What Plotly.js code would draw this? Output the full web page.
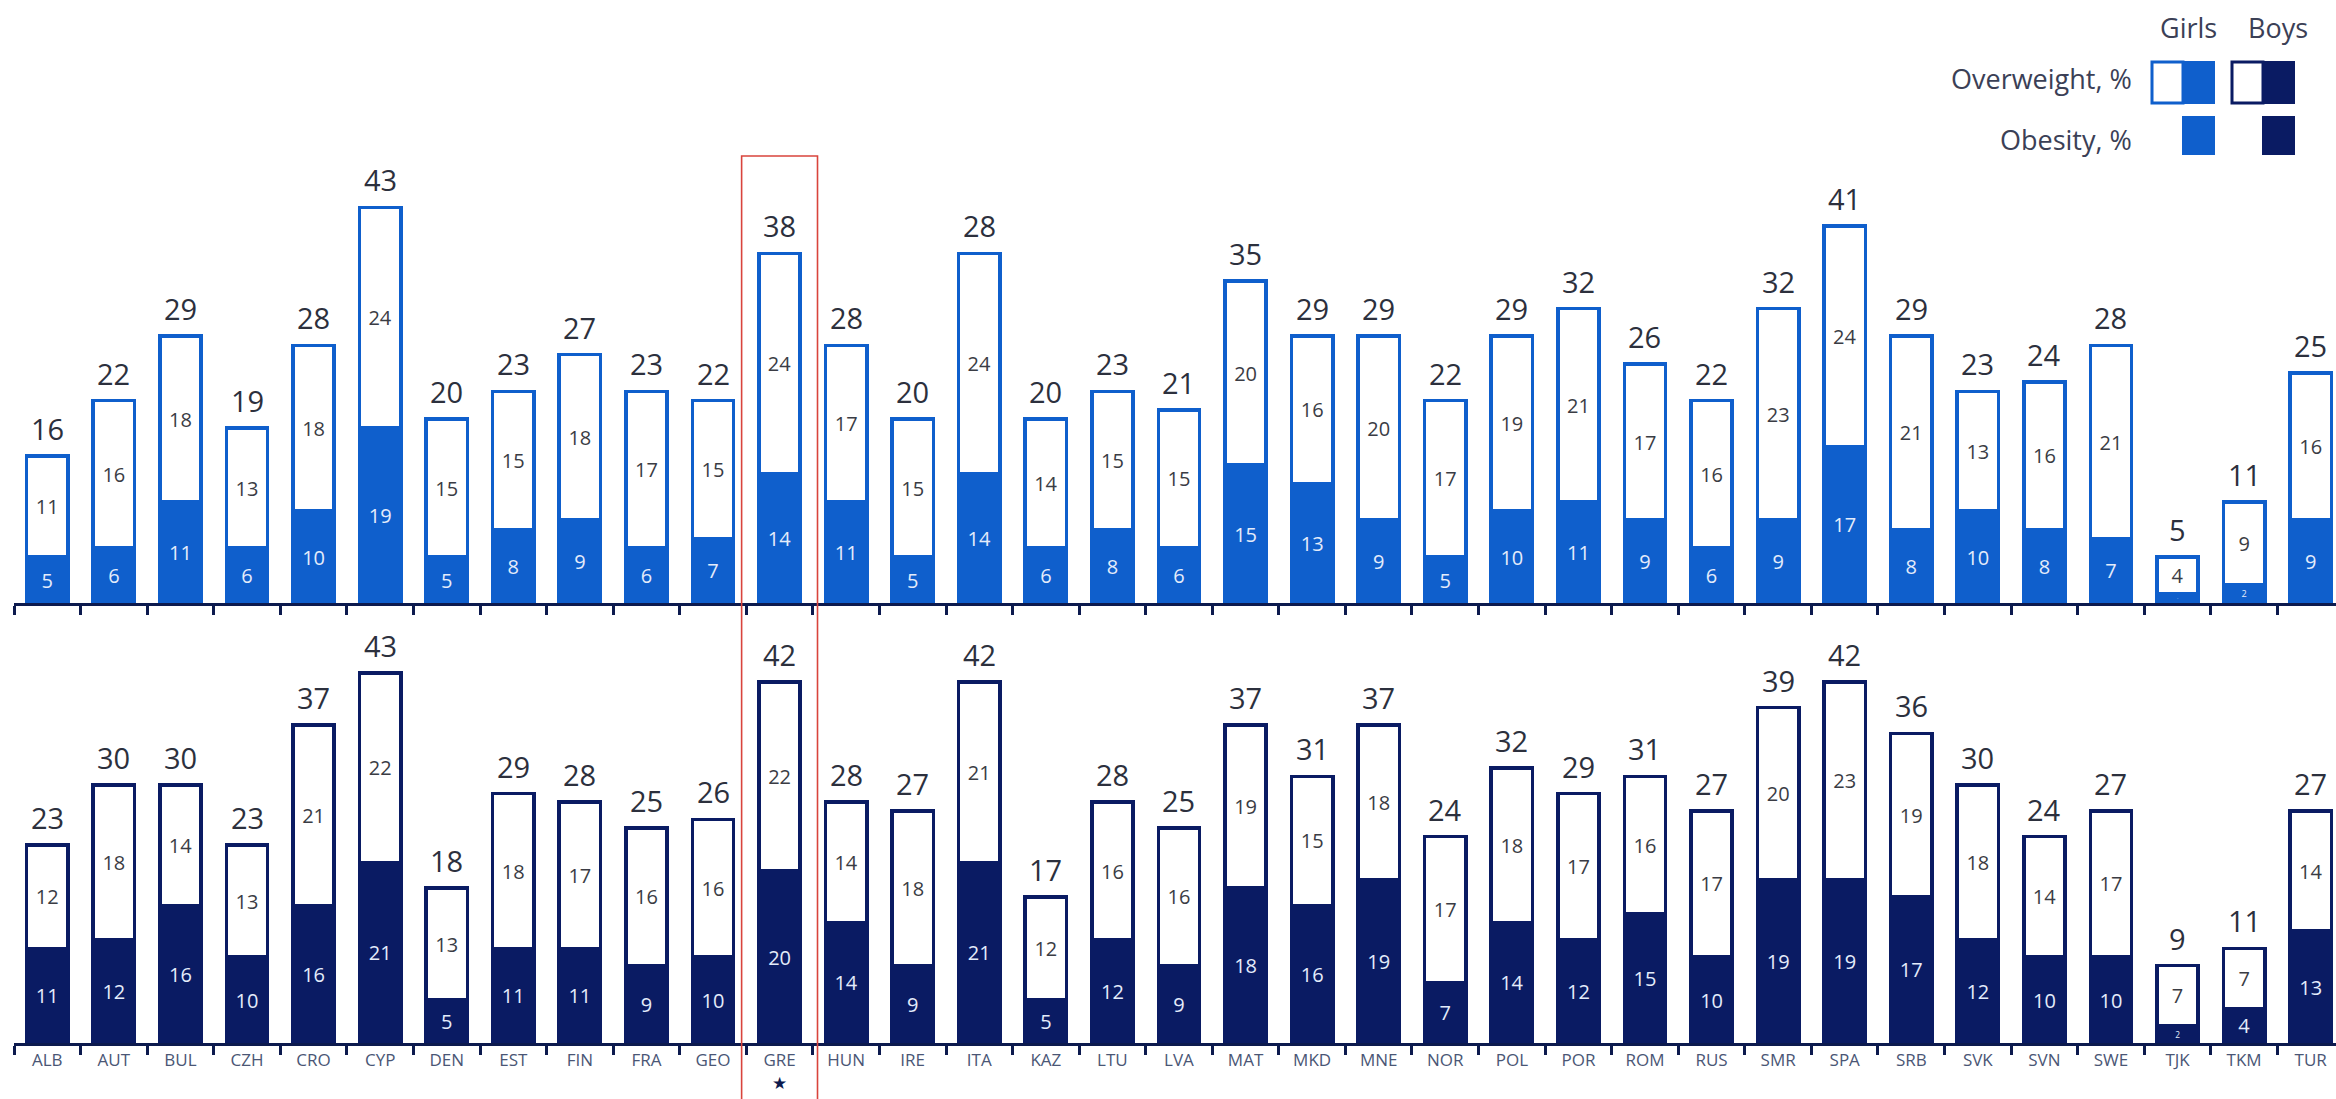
<!DOCTYPE html>
<html>
<head>
<meta charset="utf-8">
<script src="https://cdn.plot.ly/plotly-3.0.1.min.js"></script>
<style>
  html, body { margin: 0; padding: 0; background: #ffffff; overflow: hidden; }
  #chart { width: 2336px; height: 1099px; }
</style>
</head>
<body>
<div id="chart"></div>
<script>
// Country codes along the x axis
const countries = ['ALB','AUT','BUL','CZH','CRO','CYP','DEN','EST','FIN','FRA','GEO','GRE','HUN','IRE','ITA','KAZ','LTU','LVA','MAT','MKD','MNE','NOR','POL','POR','ROM','RUS','SMR','SPA','SRB','SVK','SVN','SWE','TJK','TKM','TUR'];
const highlighted = 'GRE';

// Girls: obesity %, overweight (excluding obesity) %, printed total %
const girlsObese = [5,6,11,6,10,19,5,8,9,6,7,14,11,5,14,6,8,6,15,13,9,5,10,11,9,6,9,17,8,10,8,7,1,2,9];
const girlsOver  = [11,16,18,13,18,24,15,15,18,17,15,24,17,15,24,14,15,15,20,16,20,17,19,21,17,16,23,24,21,13,16,21,4,9,16];
const girlsTotal = [16,22,29,19,28,43,20,23,27,23,22,38,28,20,28,20,23,21,35,29,29,22,29,32,26,22,32,41,29,23,24,28,5,11,25];

// Boys: obesity %, overweight (excluding obesity) %, printed total %
const boysObese = [11,12,16,10,16,21,5,11,11,9,10,20,14,9,21,5,12,9,18,16,19,7,14,12,15,10,19,19,17,12,10,10,2,4,13];
const boysOver  = [12,18,14,13,21,22,13,18,17,16,16,22,14,18,21,12,16,16,19,15,18,17,18,17,16,17,20,23,19,18,14,17,7,7,14];
const boysTotal = [23,30,30,23,37,43,18,29,28,25,26,42,28,27,42,17,28,25,37,31,37,24,32,29,31,27,39,42,36,30,24,27,9,11,27];

// Legend texts
const legendCols = ['Girls', 'Boys'];
const legendRows = ['Overweight, %', 'Obesity, %'];

const GIRL = '#0f5fcc';
const BOY = '#0a1b63';
const NAVY = '#0c1a4e';
const FONT = 'Open Sans, sans-serif';
const W = 2336, H = 1099;

const cats = countries.map(c => c === highlighted
  ? c + '<br><span style="font-size:17px;color:#0c1a4e">★</span>' : c);

function stackTraces(obese, over, color, xa, ya) {
  const common = {
    type: 'bar', x: cats, xaxis: xa, yaxis: ya,
    textposition: 'inside', insidetextanchor: 'middle', textangle: 0,
    hoverinfo: 'skip'
  };
  return [
    Object.assign({}, common, {
      y: obese, text: obese.map(String),
      marker: { color: color, line: { color: color, width: 3.5 } },
      textfont: { family: FONT, size: 20, color: '#e4ecfb' }
    }),
    Object.assign({}, common, {
      y: over, text: over.map(String),
      marker: { color: '#ffffff', line: { color: color, width: 3.5 } },
      textfont: { family: FONT, size: 20, color: '#3a3c44' }
    })
  ];
}

// total labels sitting on top of each stacked bar
function totalLabels(obese, over, total, xa, ya) {
  return total.map((t, i) => ({
    text: String(t), x: cats[i], y: obese[i] + over[i], xref: xa, yref: ya,
    xanchor: 'center', yanchor: 'bottom', yshift: 6, showarrow: false,
    font: { family: FONT, size: 29, color: '#2c303d' }
  }));
}

const data = [].concat(
  stackTraces(girlsObese, girlsOver, GIRL, 'x', 'y'),
  stackTraces(boysObese, boysOver, BOY, 'x2', 'y2')
);

const xBase = {
  type: 'category', domain: [14 / W, 1], range: [-0.5, 34.38],
  showline: true, linecolor: NAVY, linewidth: 3,
  ticks: 'outside', tickson: 'boundaries', ticklen: 9, tickwidth: 3, tickcolor: NAVY,
  showgrid: false, zeroline: false, fixedrange: true
};

const px = v => v / W;
const py = v => 1 - v / H;

const shapes = [
  // highlight frame round the GRE column
  { type: 'rect', xref: 'x', yref: 'paper',
    x0: countries.indexOf(highlighted) - 0.57, x1: countries.indexOf(highlighted) + 0.57,
    y0: -0.05, y1: py(156), line: { color: '#d9443c', width: 1.6 }, fillcolor: 'rgba(0,0,0,0)' },
  // legend swatches: overweight (half outlined, half filled)
  { type: 'rect', xref: 'paper', yref: 'paper', x0: px(2152), x1: px(2183), y0: py(103), y1: py(62),
    line: { color: GIRL, width: 3 }, fillcolor: '#ffffff' },
  { type: 'rect', xref: 'paper', yref: 'paper', x0: px(2182), x1: px(2215), y0: py(104), y1: py(61),
    line: { width: 0 }, fillcolor: GIRL },
  { type: 'rect', xref: 'paper', yref: 'paper', x0: px(2232), x1: px(2263), y0: py(103), y1: py(62),
    line: { color: BOY, width: 3 }, fillcolor: '#ffffff' },
  { type: 'rect', xref: 'paper', yref: 'paper', x0: px(2262), x1: px(2295), y0: py(104), y1: py(61),
    line: { width: 0 }, fillcolor: BOY },
  // legend swatches: obesity
  { type: 'rect', xref: 'paper', yref: 'paper', x0: px(2182), x1: px(2215), y0: py(155), y1: py(116),
    line: { width: 0 }, fillcolor: GIRL },
  { type: 'rect', xref: 'paper', yref: 'paper', x0: px(2262), x1: px(2295), y0: py(155), y1: py(116),
    line: { width: 0 }, fillcolor: BOY }
];

const legendFont = { family: FONT, size: 27, color: '#3b4056' };
const annotations = [
  { text: legendCols[0], x: px(2188), y: py(27), xref: 'paper', yref: 'paper', xanchor: 'center', yanchor: 'middle', showarrow: false, font: legendFont },
  { text: legendCols[1], x: px(2278), y: py(27), xref: 'paper', yref: 'paper', xanchor: 'center', yanchor: 'middle', showarrow: false, font: legendFont },
  { text: legendRows[0], x: px(2134), y: py(78), xref: 'paper', yref: 'paper', xanchor: 'right', yanchor: 'middle', showarrow: false, font: legendFont },
  { text: legendRows[1], x: px(2134), y: py(139), xref: 'paper', yref: 'paper', xanchor: 'right', yanchor: 'middle', showarrow: false, font: legendFont }
].concat(
  totalLabels(girlsObese, girlsOver, girlsTotal, 'x', 'y'),
  totalLabels(boysObese, boysOver, boysTotal, 'x2', 'y2')
);

const layout = {
  width: W, height: H,
  margin: { l: 0, r: 0, t: 0, b: 0, pad: 0 },
  paper_bgcolor: '#ffffff', plot_bgcolor: 'rgba(0,0,0,0)',
  barmode: 'stack', bargap: 0.38, showlegend: false,
  font: { family: FONT },
  xaxis: Object.assign({}, xBase, { anchor: 'y', showticklabels: false }),
  xaxis2: Object.assign({}, xBase, { anchor: 'y2', showticklabels: true,
    tickfont: { family: FONT, size: 17, color: '#4a5675' } }),
  yaxis: { domain: [py(603), py(143)], range: [0, 50], visible: false, fixedrange: true },
  yaxis2: { domain: [py(1043), py(613)], range: [0, 50], visible: false, fixedrange: true },
  shapes: shapes,
  annotations: annotations
};

Plotly.newPlot('chart', data, layout, { displayModeBar: false, staticPlot: true });
</script>
</body>
</html>
